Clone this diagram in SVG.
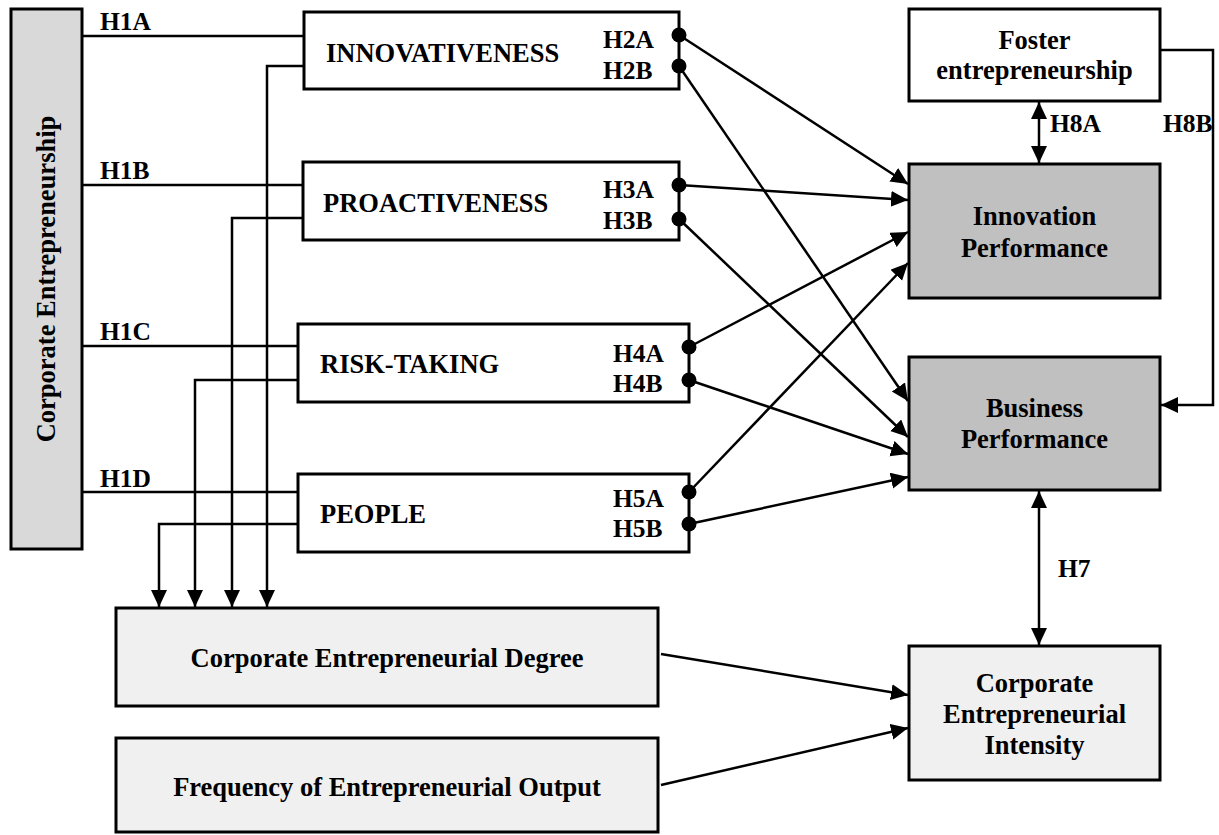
<svg xmlns="http://www.w3.org/2000/svg" width="1219" height="835" viewBox="0 0 1219 835">
<style>
.box{stroke:#000;stroke-width:3}
.w{fill:#fff}.g{fill:#c0c0c0}.lg{fill:#f0f0f0}.dg{fill:#d9d9d9}
text{font-family:"Liberation Serif","Times New Roman",serif;font-weight:bold;fill:#000}
.t{font-size:26.5px}
.h{font-size:25.5px}
.c{text-anchor:middle}
.ln{fill:none;stroke:#000;stroke-width:2.5}
.ar{marker-end:url(#ah)}
.dot{fill:#000}
</style>
<defs>
<marker id="ah" markerUnits="userSpaceOnUse" markerWidth="19" markerHeight="17" refX="17" refY="8" orient="auto">
<path d="M0,0 L17,8 L0,16 z" fill="#000"/>
</marker>
<marker id="as" markerUnits="userSpaceOnUse" markerWidth="19" markerHeight="17" refX="0" refY="8" orient="auto">
<path d="M17,0 L0,8 L17,16 z" fill="#000"/>
</marker>
</defs>

<g id="connectors">
<path class="ln" d="M82,36 H304"/>
<path class="ln" d="M82,185 H303"/>
<path class="ln" d="M82,346 H298"/>
<path class="ln" d="M82,492 H298"/>
<path class="ln ar" d="M304,66 H267 V607"/>
<path class="ln ar" d="M303,218 H232 V607"/>
<path class="ln ar" d="M298,380 H195 V607"/>
<path class="ln ar" d="M298,524 H159 V607"/>
<path class="ln ar" d="M679,35 L908,184"/>
<path class="ln ar" d="M679,66 L908,401"/>
<path class="ln ar" d="M679,185 L908,200"/>
<path class="ln ar" d="M679,219 L908,437"/>
<path class="ln ar" d="M689,347 L908,232"/>
<path class="ln ar" d="M689,380 L908,454"/>
<path class="ln ar" d="M689,492 L908,263"/>
<path class="ln ar" d="M689,524 L908,477"/>
<path class="ln ar" d="M1160,50 H1213 V405 H1161"/>
<path class="ln ar" d="M1039,102 V163" marker-start="url(#as)"/>
<path class="ln ar" d="M1039,491 V645" marker-start="url(#as)"/>
<path class="ln ar" d="M661,654 L908,695"/>
<path class="ln ar" d="M661,785 L908,728"/>
<text class="h" x="100" y="30">H1A</text>
<text class="h" x="100" y="179">H1B</text>
<text class="h" x="100" y="340">H1C</text>
<text class="h" x="100" y="487">H1D</text>
<text class="h" x="1050" y="132">H8A</text>
<text class="h" x="1163" y="132">H8B</text>
<text class="h" x="1058" y="577">H7</text>
</g>

<g id="corporate-entrepreneurship">
<rect class="box dg" x="11" y="9" width="71" height="540"/>
<text class="t c" transform="translate(55,279) rotate(-90)">Corporate Entrepreneurship</text>
</g>

<g id="innovativeness">
<rect class="box w" x="304" y="12" width="375" height="77"/>
<text class="t" x="326" y="62">INNOVATIVENESS</text>
<text class="h" x="603" y="48">H2A</text>
<text class="h" x="603" y="79">H2B</text>
<circle class="dot" cx="679" cy="35" r="7.5"/>
<circle class="dot" cx="679" cy="66" r="7.5"/>
</g>

<g id="proactiveness">
<rect class="box w" x="303" y="162" width="376" height="78"/>
<text class="t" x="323" y="212">PROACTIVENESS</text>
<text class="h" x="603" y="198">H3A</text>
<text class="h" x="603" y="229">H3B</text>
<circle class="dot" cx="679" cy="185" r="7.5"/>
<circle class="dot" cx="679" cy="219" r="7.5"/>
</g>

<g id="risk-taking">
<rect class="box w" x="298" y="324" width="391" height="78"/>
<text class="t" x="320" y="373">RISK-TAKING</text>
<text class="h" x="613" y="362">H4A</text>
<text class="h" x="613" y="392">H4B</text>
<circle class="dot" cx="689" cy="347" r="7.5"/>
<circle class="dot" cx="689" cy="380" r="7.5"/>
</g>

<g id="people">
<rect class="box w" x="298" y="474" width="391" height="78"/>
<text class="t" x="320" y="523">PEOPLE</text>
<text class="h" x="613" y="507">H5A</text>
<text class="h" x="613" y="537">H5B</text>
<circle class="dot" cx="689" cy="492" r="7.5"/>
<circle class="dot" cx="689" cy="524" r="7.5"/>
</g>

<g id="foster-entrepreneurship">
<rect class="box w" x="909" y="9" width="251" height="92"/>
<text class="t c" x="1034.5" y="49">Foster</text>
<text class="t c" x="1034.5" y="79">entrepreneurship</text>
</g>

<g id="innovation-performance">
<rect class="box g" x="909" y="164" width="251" height="134"/>
<text class="t c" x="1034.5" y="225">Innovation</text>
<text class="t c" x="1034.5" y="257">Performance</text>
</g>

<g id="business-performance">
<rect class="box g" x="909" y="357" width="251" height="133"/>
<text class="t c" x="1034.5" y="417">Business</text>
<text class="t c" x="1034.5" y="448">Performance</text>
</g>

<g id="corporate-entrepreneurial-intensity">
<rect class="box lg" x="909" y="646" width="251" height="134"/>
<text class="t c" x="1034.5" y="692">Corporate</text>
<text class="t c" x="1034.5" y="723">Entrepreneurial</text>
<text class="t c" x="1034.5" y="754">Intensity</text>
</g>

<g id="corporate-entrepreneurial-degree">
<rect class="box lg" x="116" y="608" width="542" height="98"/>
<text class="t c" x="387" y="667">Corporate Entrepreneurial Degree</text>
</g>

<g id="frequency-of-entrepreneurial-output">
<rect class="box lg" x="116" y="738" width="542" height="94"/>
<text class="t c" x="387" y="796">Frequency of Entrepreneurial Output</text>
</g>
</svg>
